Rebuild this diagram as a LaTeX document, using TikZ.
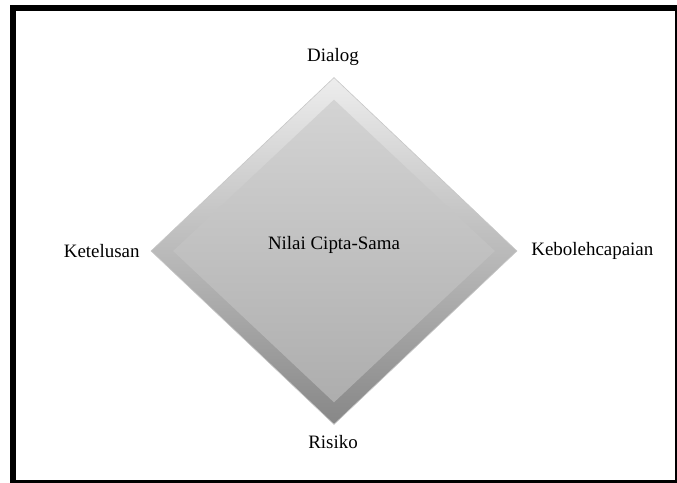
\documentclass[tikz,border=0pt]{standalone}
\usepackage{fontspec}
\setmainfont{Liberation Serif}
\usetikzlibrary{shapes.geometric}

\tikzset{
  lbl/.style={inner sep=0pt, font=\fontsize{9.5}{11}\selectfont},
  bar/.style={fill=black, draw=none}
}

\begin{document}
\begin{tikzpicture}[x=0.5bp,y=-0.5bp]
\useasboundingbox[fill=white] (0,0) rectangle (677,483);
%Frame
\fill[bar] (10,5) rectangle (16,482);
\fill[bar] (10,5) rectangle (677,11);
\fill[bar] (10,480.5) rectangle (677,483);
\fill[bar] (674.5,5) rectangle (677,483);

%Diamond
\node[diamond, minimum width=183bp, minimum height=173.5bp, inner sep=0pt,
      top color=black!7, bottom color=black!47, draw=black!22, line width=0.3bp] (core) at (334,251) {};
\node[diamond, minimum width=161bp, minimum height=151.5bp, inner sep=0pt,
      top color=black!17, bottom color=black!32] (coreface) at (334,251) {};
\node[lbl] (value) at (334,245) {Nilai Cipta-Sama};

%Corners
\node[lbl, anchor=south] (dialog) at (333,66) {Dialog};
\node[lbl, anchor=north] (risiko) at (333,435) {Risiko};
\node[lbl, anchor=east] (ketelusan) at (140,251) {Ketelusan};
\node[lbl, anchor=west] (kebolehcapaian) at (531,251) {Kebolehcapaian};
\end{tikzpicture}
\end{document}
